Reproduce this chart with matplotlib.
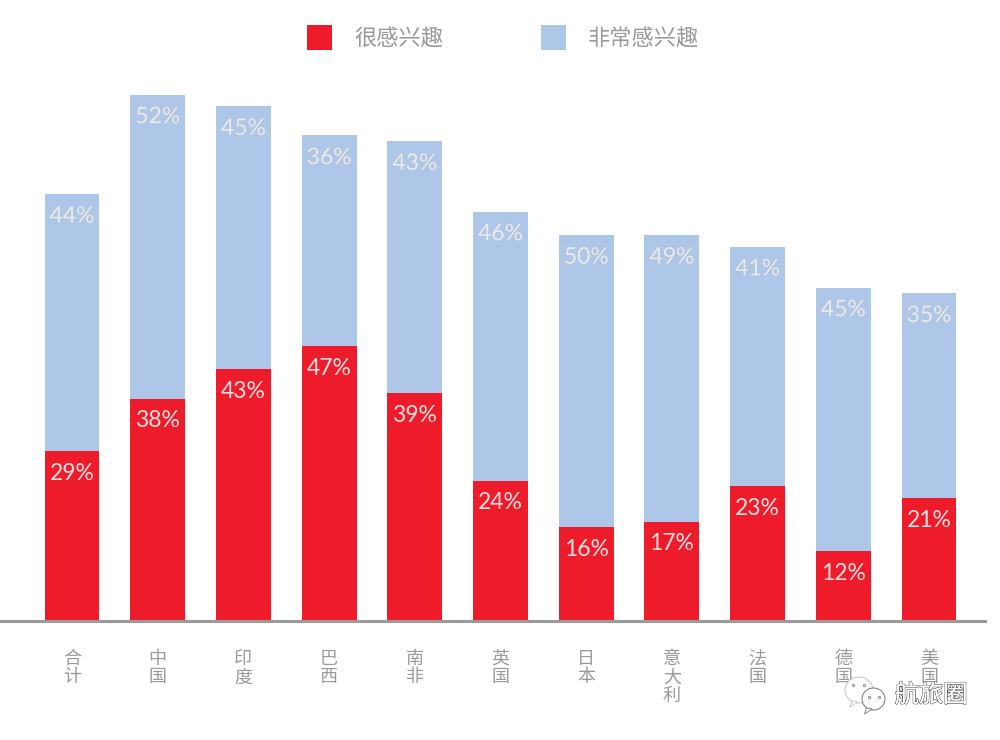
#!/usr/bin/env python3
"""
Stacked bars: share of respondents very / extremely interested, by country.
"""
import matplotlib
matplotlib.use("Agg")
import matplotlib.pyplot as plt
import matplotlib.patheffects as pe
from matplotlib.patches import Ellipse, Polygon
import numpy as np

plt.rcParams['font.family'] = ['Noto Sans CJK SC', 'DejaVu Sans']

# --- Data ---
countries = ["合计", "中国", "印度", "巴西", "南非", "英国", "日本", "意大利", "法国", "德国", "美国"]
very_interested = [29, 38, 43, 47, 39, 24, 16, 17, 23, 12, 21]
extremely_interested = [44, 52, 45, 36, 43, 46, 50, 49, 41, 45, 35]
series_names = ["很感兴趣", "非常感兴趣"]

RED = "#ee1c2b"
BLUE = "#aec6e8"
GREY = "#9a9a9a"

x = np.arange(len(countries))
red = np.array(very_interested, dtype=float)
blue = np.array(extremely_interested, dtype=float)

fig = plt.figure(figsize=(10, 7.4), dpi=100)
# axes box runs from the very top of the figure down to the baseline
ax = fig.add_axes([0, 1 - 621 / 740, 0.985, 621 / 740])
ax.set_xlim(-0.84, 10.653)
ax.set_ylim(0, 621 / 5.85)

b1 = ax.bar(x, red, width=0.64, color=RED, label=series_names[0])
b2 = ax.bar(x, blue, width=0.64, bottom=red, color=BLUE, label=series_names[1])

# Value labels sit just under the top of each segment
for xi, r, b in zip(x, red, blue):
    ax.annotate(f"{r:.0f}%", (xi, r), xytext=(0, -16), textcoords="offset points",
                ha="center", va="center", color="#fbdfe0", fontsize=16.5, family="Lato")
    ax.annotate(f"{b:.0f}%", (xi, r + b), xytext=(0, -16), textcoords="offset points",
                ha="center", va="center", color="#e6ebf2", fontsize=16.5, family="Lato",
                path_effects=[pe.withStroke(linewidth=0.5, foreground="#b4bcc6")])

for s in ["top", "left", "right"]:
    ax.spines[s].set_visible(False)
ax.spines["bottom"].set_color("#9a9a9a")
ax.spines["bottom"].set_linewidth(2.2)
ax.set_yticks([])

# Country names stacked vertically, one character per line
ax.set_xticks(x)
ax.set_xticklabels(["\n".join(c) for c in countries], fontsize=13, color=GREY, linespacing=1.02)
ax.tick_params(axis="x", length=0, pad=21)

fig.legend(handles=[b1, b2], ncol=2, loc="center", bbox_to_anchor=(0.503, 0.949),
           frameon=False, fontsize=16, labelcolor=GREY, handlelength=1.12,
           handleheight=1.355, handletextpad=1.0, columnspacing=4.4)

# WeChat-style watermark in the lower right corner
overlay = fig.add_axes([0, 0, 1, 1], facecolor="none")
overlay.set_xlim(0, 1000)
overlay.set_ylim(740, 0)
overlay.axis("off")
for cx, cy, w, h, edge in [(859, 690, 28, 26, "#c4c4c4"), (873.5, 699, 23, 22, "#777777")]:
    overlay.add_patch(Ellipse((cx, cy), w, h, fc="white", ec=edge, lw=0.7))
    overlay.add_patch(Polygon([(cx - 7, cy + h / 2 - 2), (cx - 9, cy + h / 2 + 4), (cx - 1, cy + h / 2 - 1)],
                              closed=True, fc="white", ec=edge, lw=0.6))
for px, py in [(853, 685), (864, 685), (869, 697), (879, 697)]:
    overlay.plot(px, py, "o", ms=1.6, mfc="white", mec="#666666", mew=0.5)
overlay.text(931, 695, "航旅圈", ha="center", va="center", fontsize=17.5, color="white",
             path_effects=[pe.withStroke(linewidth=0.9, foreground="#444444"),
                           pe.Normal()])

fig.savefig("out.png", dpi=100)
